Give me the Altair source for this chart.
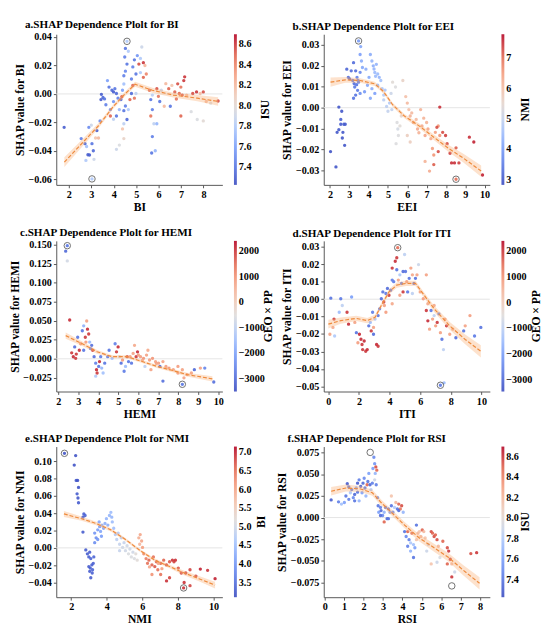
import altair as alt
import pandas as pd

FONT = "Liberation Serif"
W, H = 172, 156
COOLWARM = ["#3b4cc0", "#5a78e4", "#7b9ff9", "#aac7fd", "#dddddd",
            "#f4c4ad", "#f49a7b", "#de604c", "#b40426"]

# ---------------- panel a : BI (colour ISU) ----------------
a_x = [1.79,2.55,2.72,2.79,2.89,2.85,2.92,2.76,3.03,3.09,3.12,3.19,3.32,3.25,3.39,3.00,3.45,3.52,3.43,3.59,
       3.72,3.79,3.65,3.85,3.92,3.99,4.05,4.12,3.99,4.19,4.25,4.32,4.39,4.45,4.36,3.85,4.12,3.99,4.45,4.52,
       4.65,4.59,4.45,4.39,4.45,4.12,4.25,4.52,4.49,4.59,4.52,4.45,4.65,4.85,4.92,5.05,5.19,5.25,5.12,5.32,
       5.39,4.99,4.79,5.19,5.32,5.45,4.85,4.79,4.72,4.92,4.99,5.59,5.72,5.65,5.72,5.65,5.79,5.92,5.72,5.69,
       5.85,5.92,5.99,6.05,6.12,6.32,6.45,6.59,6.72,6.85,6.99,7.12,7.16,6.92,7.05,6.79,7.25,7.52,7.69,7.85,
       7.99,8.12,8.32,8.65,7.45,7.72,7.99,6.99,6.52,6.25,4.59,3.03]
a_y = [-0.0235,-0.0314,-0.0350,-0.0370,-0.0235,-0.0428,-0.0430,-0.0468,-0.0350,-0.0400,-0.0460,-0.0310,-0.0310,-0.0258,-0.0190,-0.0220,-0.0003,-0.0025,-0.0040,-0.0035,
       0.0094,0.0048,-0.0076,-0.0110,0.0026,0.0014,0.0037,0.0003,-0.0054,-0.0030,-0.0110,-0.0040,0.0026,0.0070,-0.0020,-0.0155,-0.0155,-0.0178,-0.0118,-0.0085,
       -0.0110,-0.0180,-0.0210,-0.0246,-0.0314,-0.0390,-0.0360,0.0320,0.0260,0.0210,0.0160,0.0128,0.0300,0.0190,0.0240,0.0270,0.0250,0.0330,0.0210,0.0220,
       0.0200,0.0140,0.0105,0.0150,0.0117,0.0140,0.0060,0.0003,-0.0040,-0.0030,0.0003,0.0026,-0.0008,-0.0040,-0.0110,-0.0155,-0.0210,-0.0210,-0.0300,-0.0416,
       -0.0400,0.0037,-0.0017,-0.0053,0.0026,0.0072,0.0037,0.0060,0.0014,0.0071,0.0048,0.0094,0.0120,0.0003,-0.0008,-0.0036,-0.0008,0.0003,0.0014,0.0003,
       0.0014,-0.0053,-0.0065,-0.0050,-0.0125,-0.0180,-0.0190,-0.0155,-0.0087,-0.0087,0.0370,-0.0598]
a_c = [7.30,7.45,7.35,7.75,7.50,7.30,7.30,7.80,7.40,7.35,7.90,8.15,8.20,7.30,7.50,7.90,7.30,7.35,7.30,7.40,
       7.60,7.40,7.45,7.50,7.35,7.30,7.40,7.35,7.55,7.45,7.70,7.35,7.60,7.75,8.55,8.50,7.40,7.85,7.40,7.45,
       7.80,7.35,7.85,8.15,8.05,7.90,7.95,7.40,7.45,7.40,7.50,7.45,7.80,7.45,7.40,7.55,7.80,7.90,8.55,8.60,
       8.20,7.40,7.45,7.80,8.50,8.40,8.55,7.35,8.50,8.45,7.85,8.50,7.85,7.40,7.45,8.45,7.85,7.70,7.45,7.40,
       7.70,8.55,8.45,7.40,7.90,8.20,8.50,8.15,8.50,8.55,8.45,8.60,8.60,8.50,8.55,8.45,8.20,8.55,8.60,8.20,
       8.55,8.20,7.95,8.55,7.95,7.95,8.00,8.50,7.40,8.20,7.80,7.80]
a_fx = [1.80, 2.65, 3.32, 3.99, 4.52, 4.95, 5.72, 6.65, 7.72, 8.65]
a_fy = [-0.0480, -0.0337, -0.0224, -0.0087, 0.0003, 0.0068, 0.0026, -0.0008, -0.0030, -0.0053]
a_fw = [0.0035, 0.0025, 0.0018, 0.0015, 0.0015, 0.0018, 0.0017, 0.0017, 0.0022, 0.0030]
a_mx = [4.59, 3.03]
a_my = [0.0370, -0.0598]

# ---------------- panel b : EEI (colour NMI) ----------------
b_x = [2.03,2.31,2.37,2.46,2.46,2.56,2.61,2.56,2.64,2.72,2.76,2.79,2.67,
       2.87,2.95,3.02,3.10,3.18,3.22,3.28,3.33,3.40,3.48,3.56,3.33,3.43,3.56,3.22,3.25,3.45,3.38,
       3.48,3.59,3.56,3.63,3.68,
       3.86,4.02,4.09,4.17,4.24,4.32,4.40,4.47,4.55,4.63,3.94,4.17,4.32,4.09,3.79,4.47,4.70,4.78,4.28,4.36,
       4.78,4.93,5.00,5.08,5.16,4.85,5.20,
       5.24,5.39,5.47,5.51,5.54,5.42,5.62,5.69,5.77,
       5.92,6.00,6.08,6.15,6.23,6.31,6.46,6.53,6.69,6.76,6.92,7.00,7.07,7.22,7.30,7.15,6.92,7.37,7.45,7.60,7.68,6.00,6.15,6.60,6.85,
       7.53,7.68,7.83,7.98,8.06,8.21,8.29,8.52,8.67,9.21,9.44,9.89,7.37,7.60,8.44,8.52]
b_y = [-0.0210,-0.0283,-0.0118,-0.0105,0.0003,-0.0079,-0.0017,-0.0056,-0.0145,-0.0079,-0.0180,-0.0079,-0.0118,
       0.0184,0.0145,0.0138,0.0176,0.0130,0.0215,0.0099,0.0060,0.0145,0.0122,0.0169,0.0176,0.0083,0.0068,0.0045,0.0115,0.0130,0.0110,
       0.0319,0.0292,0.0254,0.0223,0.0192,
       0.0184,0.0145,0.0254,0.0223,0.0200,0.0168,0.0207,0.0161,0.0145,0.0130,0.0107,0.0091,0.0068,0.0045,0.0076,0.0107,0.0091,0.0060,0.0185,0.0150,
       0.0037,0.0006,-0.0017,0.0022,0.0068,0.0084,-0.0009,
       0.0122,0.0099,-0.0071,-0.0102,-0.0133,-0.0172,-0.0087,-0.0040,0.0130,
       0.0053,0.0022,-0.0009,-0.0040,-0.0025,-0.0071,-0.0056,-0.0102,-0.0009,-0.0087,-0.0133,-0.0071,-0.0102,-0.0148,-0.0195,-0.0303,-0.0257,-0.0226,-0.0118,-0.0087,-0.0133,-0.0133,-0.0164,-0.0120,-0.0050,
       -0.0094,0.0003,-0.0118,-0.0133,-0.0172,-0.0218,-0.0264,-0.0192,-0.0264,-0.0141,-0.0164,-0.0322,-0.0272,-0.0210,-0.0264,-0.0342]
b_c = [2.95,3.0,3.0,3.05,3.0,3.05,3.0,3.1,3.0,3.1,3.0,3.05,3.0,
       3.2,3.3,3.2,3.3,3.4,3.3,3.5,3.4,3.6,3.5,3.7,3.3,3.5,3.8,3.4,3.3,3.6,3.4,
       4.0,4.2,4.1,4.3,4.2,
       4.3,4.2,4.3,4.4,4.3,4.5,4.4,4.5,4.4,4.6,4.2,4.3,4.1,4.2,4.0,4.5,4.7,4.8,4.4,4.5,
       4.9,4.9,5.0,4.8,5.1,4.7,5.0,
       5.4,5.3,5.3,5.2,5.3,5.3,5.4,5.5,5.6,
       6.0,6.1,6.0,6.2,6.1,6.2,6.1,6.3,6.2,6.3,6.4,6.2,6.4,6.3,6.5,6.3,6.2,6.6,6.5,6.6,6.6,5.7,5.7,6.2,6.2,
       7.3,7.5,7.3,7.4,7.3,7.4,7.5,7.2,7.4,7.5,7.6,7.6,7.2,7.3,7.5,7.0]
b_fx = [2.03, 2.79, 3.56, 4.32, 4.78, 5.24, 5.85, 6.61, 7.37, 8.14, 8.90, 9.82]
b_fy = [0.0122, 0.0133, 0.0130, 0.0114, 0.0076, 0.0014, -0.0040, -0.0087, -0.0141, -0.0195, -0.0241, -0.0303]
b_fw = [0.0022, 0.0014, 0.0011, 0.0010, 0.0010, 0.0010, 0.0010, 0.0011, 0.0013, 0.0017, 0.0021, 0.0027]
b_mx = [3.48, 8.52]
b_my = [0.0319, -0.0342]

# ---------------- panel c : HEMI (colour GEO x PP) ----------------
c_x = [2.37,2.45,2.57,2.67,2.75,2.82,2.90,2.97,3.05,3.12,2.87,3.20,3.27,3.35,3.42,3.46,3.52,3.57,3.38,3.61,
       3.67,3.72,3.27,3.79,3.87,3.91,3.94,4.02,4.06,4.12,4.17,4.24,4.32,3.87,4.47,4.54,4.69,4.84,4.91,4.99,
       5.06,5.14,5.21,5.29,5.36,5.51,5.59,5.74,5.81,5.89,5.96,5.66,5.44,6.11,6.26,6.41,6.56,6.71,6.86,7.01,
       7.08,7.23,7.38,7.53,6.33,6.63,6.48,7.75,7.98,8.20,8.43,8.65,8.80,9.10,9.32,9.77,7.23,8.20,8.28,7.98,
       6.00,6.20,6.90,2.45]
c_y = [0.1415,0.1287,0.0510,0.0079,0.0027,0.0156,0.0062,0.0284,0.0113,0.0198,0.0006,0.0369,0.0433,0.0284,0.0497,0.0390,0.0326,0.0220,0.0220,0.0134,
       0.0177,0.0113,0.0113,0.0028,-0.0057,-0.0143,-0.0186,-0.0100,-0.0036,0.0028,-0.0122,-0.0186,-0.0057,-0.0228,0.0028,0.0113,0.0006,0.0198,0.0092,0.0156,
       0.0028,-0.0057,-0.0015,-0.0164,-0.0100,-0.0036,0.0028,0.0071,0.0177,0.0028,0.0092,-0.0057,0.0028,0.0028,0.0006,0.0049,-0.0015,0.0006,-0.0036,-0.0057,
       -0.0100,-0.0036,-0.0100,-0.0122,-0.0100,-0.0143,0.0113,-0.0143,-0.0186,-0.0143,-0.0207,-0.0186,-0.0143,-0.0122,-0.0122,-0.0305,-0.0293,-0.0335,-0.0250,-0.0100,
       0.0050,-0.0020,-0.0060,0.1487]
c_c = [-3000,-700,2100,2000,2100,-2900,2000,-2800,2100,1000,2000,-2800,-1700,2000,800,2100,2000,-1500,900,-2700,
       -2900,2000,-2800,-2900,-2600,2100,2000,-2800,2100,-2700,-1600,-1400,-2800,-1200,-2700,-2800,-1500,-2600,2000,2100,
       -700,-2900,900,-2700,-1500,-2800,900,800,700,2000,2100,-2800,1900,900,1000,800,900,1000,800,900,
       -3000,800,900,1000,-1000,800,700,800,900,800,900,800,-3000,800,-2500,-2900,-2900,-2800,800,900,
       900,700,800,-2800]
c_fx = [2.37, 3.20, 3.94, 4.69, 5.44, 6.19, 6.93, 7.68, 8.43, 9.70]
c_fy = [0.0305, 0.0198, 0.0092, 0.0028, 0.0028, -0.0036, -0.0100, -0.0151, -0.0207, -0.0263]
c_fw = [0.0040, 0.0030, 0.0025, 0.0020, 0.0020, 0.0020, 0.0020, 0.0022, 0.0025, 0.0035]
c_mx = [2.45, 8.20]
c_my = [0.1487, -0.0335]

# ---------------- panel d : ITI (colour GEO x PP) ----------------
d_x = [0.16,0.30,0.37,0.10,0.41,0.71,0.81,0.91,1.22,1.32,1.52,1.73,1.83,1.93,2.03,2.13,2.24,2.34,2.44,2.54,
       2.20,2.64,2.74,2.80,2.89,2.95,3.15,3.25,3.05,2.95,3.25,3.35,3.46,3.56,3.62,3.66,3.76,3.86,3.96,4.07,
       3.76,4.17,4.27,4.37,4.17,4.47,4.57,4.67,4.78,4.88,4.98,5.04,5.12,5.18,5.28,5.39,5.49,5.59,5.69,5.79,
       5.89,4.67,4.88,4.17,4.47,5.49,6.00,6.20,6.40,6.50,6.71,6.81,6.91,7.01,7.11,7.22,7.32,7.42,7.52,7.62,
       7.72,7.93,8.13,8.33,8.84,8.94,9.25,9.55,9.96,6.40,6.50,6.91,6.61,7.32,7.56,4.53]
d_y = [0.0006,-0.0162,-0.0114,-0.0201,-0.0211,-0.0075,0.0003,-0.0036,-0.0075,-0.0143,0.0013,-0.0133,-0.0192,-0.0250,-0.0201,-0.0230,-0.0289,-0.0240,-0.0299,-0.0289,
       -0.0260,-0.0153,-0.0133,-0.0182,-0.0075,-0.0162,-0.0260,-0.0270,-0.0114,-0.0201,-0.0094,-0.0055,0.0003,0.0042,-0.0016,-0.0036,0.0033,0.0062,0.0023,0.0052,
       -0.0075,-0.0026,0.0101,0.0218,0.0110,0.0169,0.0110,0.0140,0.0091,0.0159,0.0257,0.0159,0.0101,0.0042,0.0120,0.0179,0.0140,0.0091,0.0120,0.0140,
       0.0199,0.0023,0.0042,0.0179,0.0238,0.0033,0.0042,0.0003,0.0140,-0.0026,-0.0065,-0.0114,-0.0036,-0.0153,-0.0133,-0.0084,-0.0192,-0.0230,-0.0289,-0.0114,
       -0.0153,-0.0201,-0.0172,-0.0221,-0.0182,-0.0153,-0.0094,-0.0211,-0.0162,-0.0065,-0.0124,-0.0094,-0.0172,-0.0494,-0.0480,0.0296]
d_c = [-2800,700,2000,800,-1200,-1500,-2700,-1000,2000,2100,-2000,800,-2800,900,2100,2100,2000,2100,2000,2100,
       2000,-2800,-1500,2000,-2600,800,2100,2000,-1300,-2900,-2800,-2700,-2900,-2800,2000,800,-2700,-2900,2000,-2800,
       900,700,-2700,2100,-2600,-2800,800,-1200,-2700,-2900,-1000,-2800,900,-2700,-2800,800,700,-2900,-2800,800,
       -800,800,2000,2000,2000,-1000,800,900,800,700,-2700,800,700,900,2000,-2600,800,-2800,-1000,800,
       2000,800,700,-2900,-2800,800,900,-2700,-2800,2000,2100,-1000,800,-2700,-1500,1500]
d_fx = [0.00, 0.81, 1.83, 2.54, 3.05, 3.46, 3.96, 4.47, 5.08, 5.69, 6.10, 6.91, 7.93, 8.94, 9.96]
d_fy = [-0.0143, -0.0123, -0.0110, -0.0123, -0.0104, -0.0036, 0.0042, 0.0081, 0.0091, 0.0091, 0.0042, -0.0055, -0.0153, -0.0231, -0.0299]
d_fw = [0.0025, 0.0018, 0.0015, 0.0015, 0.0015, 0.0015, 0.0015, 0.0015, 0.0015, 0.0015, 0.0015, 0.0018, 0.0022, 0.0028, 0.0035]
d_mx = [4.53, 7.32]
d_my = [0.0296, -0.0494]

# ---------------- panel e : NMI (colour BI) ----------------
e_x = [2.17,2.25,2.28,2.36,2.33,2.38,2.41,2.41,2.71,2.66,2.78,2.66,2.82,2.91,2.99,3.04,3.10,3.16,3.07,3.04,
       3.10,3.20,3.24,3.27,2.99,3.18,3.32,3.40,3.49,3.57,3.60,3.65,3.73,3.82,3.90,3.98,4.06,4.15,4.23,4.28,
       4.31,4.39,3.49,3.70,3.32,4.48,4.56,4.64,4.72,4.81,4.89,4.97,5.05,5.14,5.22,5.30,5.38,5.47,5.55,5.63,
       5.71,4.72,5.80,5.88,5.96,5.85,6.01,6.08,6.21,6.29,6.37,6.54,6.62,6.70,6.79,6.87,7.03,7.20,7.36,7.53,
       7.69,7.78,7.86,8.02,8.19,8.44,8.68,9.01,9.26,9.67,10.09,7.36,7.53,7.03,6.54,8.35,8.68,6.40,7.10,6.90,
       1.62,8.32]
e_y = [0.0956,0.1066,0.0779,0.0779,0.0624,0.0576,0.0521,0.0698,0.0392,0.0355,0.0374,0.0182,-0.0024,-0.0069,-0.0105,-0.0050,-0.0124,-0.0197,-0.0234,-0.0271,
       -0.0345,-0.0253,-0.0179,-0.0105,-0.0216,-0.0290,0.0171,0.0116,0.0208,0.0300,0.0245,0.0190,0.0263,0.0226,0.0282,0.0337,0.0263,0.0374,0.0410,0.0355,
       0.0300,0.0226,0.0097,0.0134,0.0060,0.0153,0.0097,0.0171,0.0042,0.0116,0.0005,0.0060,-0.0032,0.0024,-0.0069,-0.0013,-0.0105,-0.0050,-0.0124,-0.0069,
       -0.0142,-0.0032,0.0116,0.0153,0.0079,0.0042,0.0005,-0.0069,-0.0124,-0.0179,-0.0142,-0.0197,-0.0105,-0.0216,-0.0160,-0.0253,-0.0179,-0.0142,-0.0197,-0.0160,
       -0.0142,-0.0160,-0.0142,-0.0234,-0.0290,-0.0290,-0.0253,-0.0326,-0.0245,-0.0260,-0.0356,-0.0382,-0.0345,-0.0308,-0.0308,-0.0400,-0.0437,-0.0220,-0.0240,-0.0180,
       0.1092,-0.0463]
e_c = [3.2,3.2,3.25,3.2,3.3,3.25,3.3,3.2,3.35,3.3,3.4,3.3,3.3,3.3,3.35,3.3,3.4,3.35,3.3,3.3,
       3.3,3.4,3.35,3.4,3.3,3.35,4.0,3.9,4.1,4.2,4.1,4.2,4.3,4.2,4.3,4.4,4.3,4.4,4.5,4.4,
       4.5,4.5,4.0,4.1,3.9,4.7,4.8,4.7,4.9,4.8,5.0,4.9,5.0,5.0,5.1,5.0,5.1,5.0,5.1,5.2,
       5.2,4.9,5.9,6.0,6.0,5.8,6.1,6.3,6.4,6.5,6.6,6.6,6.5,6.7,6.6,6.5,6.7,6.6,6.8,6.7,
       6.9,6.8,6.9,6.7,6.8,6.9,6.8,6.9,7.0,6.9,7.0,6.9,6.8,6.5,6.2,6.9,6.8,6.0,6.1,6.0,
       3.2,6.9]
e_fx = [1.59, 2.58, 3.40, 4.23, 5.05, 5.88, 6.70, 7.53, 8.35, 9.18, 10.09]
e_fy = [0.0392, 0.0337, 0.0282, 0.0208, 0.0097, -0.0032, -0.0142, -0.0216, -0.0290, -0.0356, -0.0430]
e_fw = [0.0035, 0.0025, 0.0020, 0.0018, 0.0017, 0.0017, 0.0018, 0.0020, 0.0025, 0.0030, 0.0038]
e_mx = [1.62, 8.32]
e_my = [0.1092, -0.0463]

# ---------------- panel f : RSI (colour ISU) ----------------
f_x = [0.33,0.71,0.86,1.01,1.09,1.16,1.24,1.32,1.39,1.47,1.54,1.62,1.69,1.77,1.85,1.92,1.97,2.03,2.07,2.12,
       2.18,2.22,2.27,2.33,2.38,2.45,2.48,2.53,2.57,2.60,2.63,2.68,2.57,2.65,1.69,1.77,1.54,1.24,
       2.72,2.75,2.78,2.87,2.90,2.98,3.06,3.13,3.21,3.28,3.36,3.43,3.51,3.59,3.66,3.74,3.81,3.89,3.96,4.04,
       2.87,3.06,3.28,3.43,3.81,
       4.11,4.19,4.27,4.34,4.42,4.49,4.57,4.64,4.72,4.80,4.87,4.95,5.02,5.10,4.57,4.27,4.42,4.72,
       5.17,5.33,5.48,5.55,5.63,5.70,5.78,5.85,6.08,6.31,6.38,6.46,6.31,6.54,6.54,6.69,5.48,5.78,5.93,7.52,7.82,5.25]
f_y = [0.0203,0.0181,0.0155,0.0173,0.0248,0.0389,0.0352,0.0285,0.0322,0.0229,0.0266,0.0340,0.0292,0.0434,0.0359,0.0285,0.0396,0.0452,0.0340,0.0248,
       0.0378,0.0415,0.0508,0.0378,0.0322,0.0396,0.0564,0.0694,0.0620,0.0508,0.0583,0.0545,0.0434,0.0378,0.0396,0.0192,0.0192,0.0210,
       0.0229,0.0136,0.0061,0.0117,0.0080,0.0024,0.0061,0.0117,-0.0013,0.0099,0.0061,0.0136,0.0061,0.0117,0.0173,0.0099,0.0155,0.0099,0.0136,0.0061,
       0.0024,-0.0050,-0.0013,0.0248,0.0080,
       -0.0162,-0.0218,-0.0162,-0.0255,-0.0292,-0.0180,-0.0311,-0.0348,-0.0255,-0.0180,-0.0162,-0.0218,-0.0143,-0.0162,-0.0460,-0.0330,-0.0386,-0.0087,
       -0.0236,-0.0311,-0.0162,-0.0180,-0.0218,-0.0199,-0.0255,-0.0330,-0.0273,-0.0348,-0.0386,-0.0480,-0.0534,-0.0534,-0.0683,-0.0627,-0.0534,-0.0515,-0.0460,-0.0415,-0.0404,-0.0386]
f_c = [7.30,7.45,7.75,7.60,7.40,7.30,7.35,7.80,7.40,7.50,7.35,7.60,7.40,7.45,7.30,7.60,7.35,7.50,7.40,7.70,
       8.50,7.40,7.60,7.35,7.80,7.45,7.60,7.50,7.55,7.70,8.55,8.50,7.90,7.45,7.30,7.70,7.40,7.45,
       7.50,7.40,7.60,7.45,7.35,7.50,7.70,7.40,7.35,7.45,7.60,7.40,7.50,7.80,8.20,7.40,8.50,8.45,8.55,7.70,
       7.35,8.50,7.40,8.15,7.35,
       7.40,7.50,8.50,7.45,7.80,8.50,7.75,7.60,8.15,8.20,8.15,8.20,8.50,8.20,7.40,7.45,7.70,7.40,
       8.15,7.90,8.55,8.50,8.55,8.50,8.55,8.20,8.50,8.55,8.60,8.60,8.50,8.20,8.60,7.90,8.15,7.90,7.95,8.55,8.60,7.90]
f_fx = [0.33, 1.09, 1.85, 2.45, 2.90, 3.51, 4.11, 4.87, 5.63, 6.38, 7.14, 7.97]
f_fy = [0.0303, 0.0340, 0.0329, 0.0285, 0.0173, 0.0043, -0.0087, -0.0236, -0.0348, -0.0460, -0.0608, -0.0757]
f_fw = [0.0050, 0.0040, 0.0035, 0.0035, 0.0035, 0.0035, 0.0035, 0.0040, 0.0045, 0.0050, 0.0060, 0.0070]
f_mx = [2.34, 6.54]
f_my = [0.0750, -0.0787]


def panel(letter, feat, xs, ys, cs, fx, fy, fw, mx, my, xdom, ydom, xticks, yticks,
          yfmt, cname, cdom, cticks, cfmt, tdx):
    pts = pd.DataFrame({"x": xs, "y": ys, "c": cs})
    fit = pd.DataFrame({"x": fx, "y": fy,
                        "lo": [a - b for a, b in zip(fy, fw)],
                        "hi": [a + b for a, b in zip(fy, fw)]})
    mk = pd.DataFrame({"x": mx, "y": my})
    xsc = alt.Scale(domain=xdom, nice=False, zero=False)
    ysc = alt.Scale(domain=ydom, nice=False, zero=False)
    xax = alt.Axis(values=xticks, title=feat, labelOverlap=False, labelFlush=False,
                   tickCount=len(xticks))
    yax = alt.Axis(values=yticks, format=yfmt, title=f"SHAP value for {feat}",
                   labelOverlap=False, labelFlush=False, tickCount=len(yticks))
    xenc = alt.X("x:Q", scale=xsc, axis=xax)
    yenc = alt.Y("y:Q", scale=ysc, axis=yax)
    lo, hi = cdom
    stops = [lo + (hi - lo) * i / 8 for i in range(9)]
    cenc = alt.Color("c:Q",
                     scale=alt.Scale(domain=stops, range=COOLWARM, interpolate="rgb"),
                     legend=alt.Legend(title=None, orient="right", offset=12,
                                       gradientLength=H, gradientThickness=3,
                                       gradientStrokeWidth=0, values=cticks, format=cfmt,
                                       labelFont=FONT, labelFontWeight="bold",
                                       labelFontSize=10.5, labelColor="black",
                                       labelOffset=2, labelOverlap=False, padding=0))
    zero = alt.Chart(pd.DataFrame({"y": [0.0]})).mark_rule(
        color="#e4e4e4", strokeWidth=1).encode(y=alt.Y("y:Q", scale=ysc, axis=yax))
    dots = alt.Chart(pts).mark_circle(size=12, opacity=0.9).encode(x=xenc, y=yenc, color=cenc)
    band = alt.Chart(fit).mark_area(color="#f9b47c", opacity=0.38).encode(
        x=xenc, y=alt.Y("lo:Q", scale=ysc, axis=yax), y2="hi:Q")
    line = alt.Chart(fit).mark_line(color="#ee8a3c", strokeWidth=1.2,
                                    strokeDash=[4, 2]).encode(x=xenc, y=yenc)
    rings = alt.Chart(mk).mark_point(shape="circle", size=45, filled=False,
                                     color="#333333", strokeWidth=1).encode(x=xenc, y=yenc)
    ctitle = alt.Chart(pd.DataFrame({"t": [cname]})).mark_text(
        angle=270, font=FONT, fontWeight="bold", fontSize=12, color="black").encode(
        text="t:N", x=alt.value(W + 15 + tdx), y=alt.value(H / 2))
    return alt.layer(zero, dots, band, line, rings, ctitle).properties(
        width=W, height=H,
        title=alt.TitleParams(f"{letter}.SHAP Dependence Plolt for {feat}", anchor="start",
                              font=FONT, fontSize=11.5, fontWeight="bold", color="black",
                              offset=2, dx=12))


ISU_T = [7.4, 7.6, 7.8, 8.0, 8.2, 8.4, 8.6]
GEO_T = [-3000, -2000, -1000, 0, 1000, 2000]

pa = panel("a", "BI", a_x, a_y, a_c, a_fx, a_fy, a_fw, a_mx, a_my,
           [1.44, 8.84], [-0.064, 0.042], [2, 3, 4, 5, 6, 7, 8],
           [-0.06, -0.04, -0.02, 0.0, 0.02, 0.04], ".2f",
           "ISU", [7.23, 8.70], ISU_T, ".1f", 29)
pb = panel("b", "EEI", b_x, b_y, b_c, b_fx, b_fy, b_fw, b_mx, b_my,
           [1.68, 10.27], [-0.0369, 0.0351], [2, 3, 4, 5, 6, 7, 8, 9, 10],
           [-0.03, -0.02, -0.01, 0.0, 0.01, 0.02, 0.03], ".2f",
           "NMI", [2.84, 7.79], [3, 4, 5, 6, 7], "d", 22)
pc = panel("c", "HEMI", c_x, c_y, c_c, c_fx, c_fy, c_fw, c_mx, c_my,
           [1.9, 10.2], [-0.043, 0.155], [2, 3, 4, 5, 6, 7, 8, 9, 10],
           [-0.025, 0.0, 0.025, 0.05, 0.075, 0.1, 0.125, 0.15], ".3f",
           "GEO × PP", [-3490, 2417], GEO_T, "d", 32)
pd_ = panel("d", "ITI", d_x, d_y, d_c, d_fx, d_fy, d_fw, d_mx, d_my,
            [-0.3, 10.55], [-0.053, 0.0335], [0, 2, 4, 6, 8, 10],
            [-0.05, -0.04, -0.03, -0.02, -0.01, 0.0, 0.01, 0.02, 0.03], ".2f",
            "GEO × PP", [-3450, 2400], GEO_T, "d", 33)
pe = panel("e", "NMI", e_x, e_y, e_c, e_fx, e_fy, e_fw, e_mx, e_my,
           [1.16, 10.5], [-0.057, 0.117], [2, 4, 6, 8, 10],
           [-0.04, -0.02, 0.0, 0.02, 0.04, 0.06, 0.08, 0.1], ".2f",
           "BI", [3.11, 7.16], [3.5, 4.0, 4.5, 5.0, 5.5, 6.0, 6.5, 7.0], ".1f", 25)
pf = panel("f", "RSI", f_x, f_y, f_c, f_fx, f_fy, f_fw, f_mx, f_my,
           [-0.05, 8.5], [-0.0917, 0.0817], [0, 1, 2, 3, 4, 5, 6, 7, 8],
           [-0.075, -0.05, -0.025, 0.0, 0.025, 0.05, 0.075], ".3f",
           "ISU", [7.23, 8.70], ISU_T, ".1f", 22)

chart = alt.concat(pa, pb, pc, pd_, pe, pf, columns=2,
                   spacing={"row": 14, "column": 2}).resolve_scale(
    color="independent", x="independent", y="independent"
).configure_view(stroke=None).configure_axis(
    grid=False, domainColor="#555555", tickColor="#555555", tickSize=3,
    labelFont=FONT, labelFontWeight="bold", labelFontSize=10.5, labelColor="black",
    titleFont=FONT, titleFontWeight="bold", titleFontSize=12, titleColor="black",
    titlePadding=2, labelPadding=2, labelOverlap=False, labelFlush=False
).properties(background="white", padding=0)

chart.save("out.html", embed_options={"renderer": "svg", "actions": False})
